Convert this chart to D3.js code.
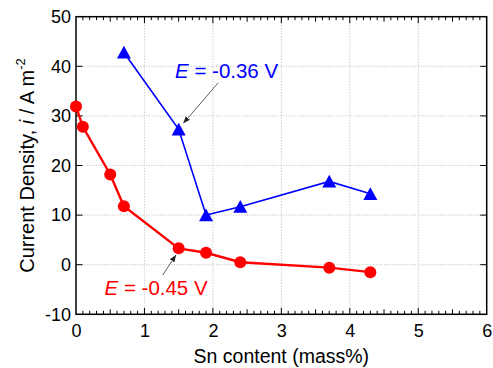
<!DOCTYPE html>
<html>
<head>
<meta charset="utf-8">
<script src="https://cdn.jsdelivr.net/npm/d3@7"></script>
<style>
  html, body { margin: 0; padding: 0; background: #fff; }
  svg { display: block; font-family: Arial, "Liberation Sans", sans-serif; }
</style>
</head>
<body>
<svg id="chart" width="493" height="368"></svg>
<script>
// ---- data ----
const snRed = [0, 0.1, 0.5, 0.7, 1.5, 1.9, 2.4, 3.7, 4.3];
const iRed = [31.9, 27.8, 18.2, 11.8, 3.3, 2.4, 0.5, -0.6, -1.5];
const snBlue = [0.7, 1.5, 1.9, 2.4, 3.7, 4.3];
const iBlue = [42.8, 27.3, 10.0, 11.7, 16.8, 14.3];
const xTicks = [0, 1, 2, 3, 4, 5, 6];
const yTicks = [-10, 0, 10, 20, 30, 40, 50];
const labelRed = "-0.45 V";
const labelBlue = "-0.36 V";

const svg = d3.select("#chart");
const L = 76, T = 16.7, R = 486.7, B = 314.3;
const x = d3.scaleLinear().domain([0, 6]).range([L, R]);
const y = d3.scaleLinear().domain([-10, 50]).range([B, T]);

// grid
const grid = svg.append("g").attr("stroke", "#b8b8b8").attr("stroke-width", 0.8)
  .attr("stroke-dasharray", "1.2,1.6");
grid.selectAll(".gx").data(xTicks.filter(d => d > 0 && d < 6)).enter().append("line")
  .attr("x1", d => x(d)).attr("x2", d => x(d)).attr("y1", T).attr("y2", B);
grid.selectAll(".gy").data(yTicks.filter(d => d > -10 && d < 50)).enter().append("line")
  .attr("y1", d => y(d)).attr("y2", d => y(d)).attr("x1", L).attr("x2", R);

// minor x ticks (0.1 step) top & bottom
const minor = d3.range(0, 60).map(i => i / 10).filter(v => v > 0);
const tk = svg.append("g").attr("stroke", "#000").attr("stroke-width", 1);
minor.forEach(v => {
  const r = Math.round(v * 10);
  const len = r % 10 === 0 ? 6.5 : (r % 5 === 0 ? 5 : 3.5);
  tk.append("line").attr("x1", x(v)).attr("x2", x(v)).attr("y1", B).attr("y2", B - len);
  tk.append("line").attr("x1", x(v)).attr("x2", x(v)).attr("y1", T).attr("y2", T + len);
});
yTicks.filter(d => d > -10 && d < 50).forEach(v => {
  tk.append("line").attr("x1", L).attr("x2", L + 6.5).attr("y1", y(v)).attr("y2", y(v));
  tk.append("line").attr("x1", R).attr("x2", R - 6.5).attr("y1", y(v)).attr("y2", y(v));
});

// frame
svg.append("rect").attr("x", L).attr("y", T).attr("width", R - L).attr("height", B - T)
  .attr("fill", "none").attr("stroke", "#000").attr("stroke-width", 1.5);

// axes labels
const fmt = d => String(d);
const xAxis = d3.axisBottom(x).tickValues(xTicks).tickFormat(fmt).tickSize(0).tickPadding(10);
const gx = svg.append("g").attr("transform", `translate(0,${B})`).call(xAxis);
gx.select(".domain").remove();
gx.selectAll("text").attr("font-size", 18).attr("font-family", "Arial, 'Liberation Sans', sans-serif").attr("fill", "#000");

const yAxis = d3.axisLeft(y).tickValues(yTicks).tickFormat(fmt).tickSize(0).tickPadding(5);
const gy = svg.append("g").attr("transform", `translate(${L},0)`).call(yAxis);
gy.select(".domain").remove();
gy.selectAll("text").attr("font-size", 18).attr("font-family", "Arial, 'Liberation Sans', sans-serif").attr("fill", "#000");

svg.append("text").attr("x", (L + R) / 2).attr("y", 363).attr("text-anchor", "middle")
  .attr("font-size", 19.5).text("Sn content (mass%)");

const yl = svg.append("text").attr("transform", `translate(34,${(T + B) / 2}) rotate(-90)`)
  .attr("text-anchor", "middle").attr("font-size", 20);
yl.append("tspan").text("Current Density, ");
yl.append("tspan").attr("font-style", "italic").text("i");
yl.append("tspan").text(" / A m");
yl.append("tspan").attr("font-size", 13).attr("dy", -9).text("-2");

// lines
const redPts = snRed.map((s, i) => [s, iRed[i]]);
const bluePts = snBlue.map((s, i) => [s, iBlue[i]]);
const line = d3.line().x(d => x(d[0])).y(d => y(d[1]));

svg.append("path").attr("d", line(bluePts)).attr("fill", "none").attr("stroke", "#0000ff").attr("stroke-width", 1.6);
svg.append("path").attr("d", line(redPts)).attr("fill", "none").attr("stroke", "#ff0000").attr("stroke-width", 2.4);

svg.selectAll(".dot").data(redPts).enter().append("circle")
  .attr("cx", d => x(d[0])).attr("cy", d => y(d[1])).attr("r", 6).attr("fill", "#ff0000");

const tri = "M0,-6.6L7,6.2L-7,6.2Z";
svg.selectAll(".tri").data(bluePts).enter().append("path")
  .attr("transform", d => `translate(${x(d[0])},${y(d[1])})`).attr("d", tri).attr("fill", "#0000ff");

// annotations
const defs = svg.append("defs");
defs.append("marker").attr("id", "ah").attr("viewBox", "0 0 10 10").attr("refX", 10).attr("refY", 5)
  .attr("markerWidth", 7).attr("markerHeight", 7).attr("markerUnits", "userSpaceOnUse").attr("orient", "auto")
  .append("path").attr("d", "M0,1L10,5L0,9Z").attr("fill", "#222");

svg.append("line").attr("x1", 218.3).attr("y1", 82.7).attr("x2", 183.3).attr("y2", 123.3)
  .attr("stroke", "#333").attr("stroke-width", 0.8).attr("marker-end", "url(#ah)");
svg.append("line").attr("x1", 162.7).attr("y1", 275).attr("x2", 176).attr("y2", 255)
  .attr("stroke", "#333").attr("stroke-width", 0.8).attr("marker-end", "url(#ah)");

const tb = svg.append("text").attr("x", 175).attr("y", 78.3).attr("font-size", 20.5).attr("fill", "#0000ff");
tb.append("tspan").attr("font-style", "italic").text("E");
tb.append("tspan").text(" = " + labelBlue);

const tr = svg.append("text").attr("x", 104.5).attr("y", 295).attr("font-size", 20.5).attr("fill", "#ff0000");
tr.append("tspan").attr("font-style", "italic").text("E");
tr.append("tspan").text(" = " + labelRed);
</script>
</body>
</html>
